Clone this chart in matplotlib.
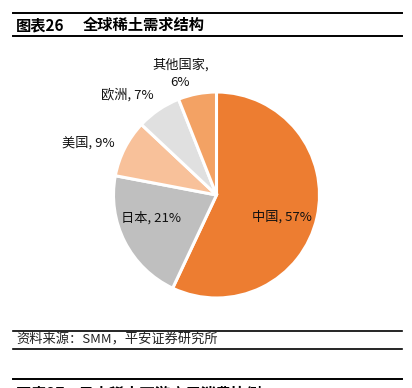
import matplotlib

matplotlib.use("Agg")
import matplotlib.pyplot as plt
from matplotlib.lines import Line2D

plt.rcParams["font.family"] = ["Noto Sans CJK SC", "DejaVu Sans"]

# data
regions = ["中国", "日本", "美国", "欧洲", "其他国家"]
shares = [57, 21, 9, 7, 6]
colors = ["#ED7D31", "#BFBFBF", "#F8C19A", "#E0E0E0", "#F3A264"]
label_text = ["中国, 57%", "日本, 21%", "美国, 9%", "欧洲, 7%", "其他国家,\n6%"]
label_xy = [(0.64, -0.21), (-0.64, -0.22), (-1.24, 0.51), (-0.87, 0.97), (-0.35, 1.18)]

W, H = 412, 388
fig = plt.figure(figsize=(W / 100, H / 100), dpi=100)

# pie axes: center (216.5, 195) px, radius 103 px
cx, cy, r = 216.5, 195, 103
ax = fig.add_axes([(cx - r) / W, 1 - (cy + r) / H, 2 * r / W, 2 * r / H])
ax.pie(
    shares,
    colors=colors,
    startangle=90,
    counterclock=False,
    wedgeprops=dict(edgecolor="white", linewidth=2.2),
)
ax.set_xlim(-1, 1)
ax.set_ylim(-1, 1)
ax.set_aspect("equal")
ax.axis("off")
for (x, y), t in zip(label_xy, label_text):
    ax.text(x, y, t, ha="center", va="center", fontsize=9.5, color="#111111",
            linespacing=1.5, clip_on=False)


def hline(ypx, lw=1.4):
    fig.add_artist(Line2D([13 / W, 402 / W], [1 - ypx / H, 1 - ypx / H],
                          color="black", linewidth=lw))


# header
hline(13)
hline(36)
fig.text(16 / W, 1 - 25 / H, "图表26", fontsize=11, fontweight="bold", va="center")
fig.text(83 / W, 1 - 25 / H, "全球稀土需求结构", fontsize=11, fontweight="bold", va="center")

# source
hline(331, 1.2)
hline(349, 1.2)
fig.text(16 / W, 1 - 340 / H, "资料来源：SMM，平安证券研究所", fontsize=9.5,
         style="italic", va="center", color="#222222")

# next figure header (cut off)
hline(379)
fig.text(16 / W, 1 - 393 / H, "图表27    日本稀土下游应用消费比例", fontsize=11,
         fontweight="bold", va="center")

fig.savefig("out.png", dpi=100)
